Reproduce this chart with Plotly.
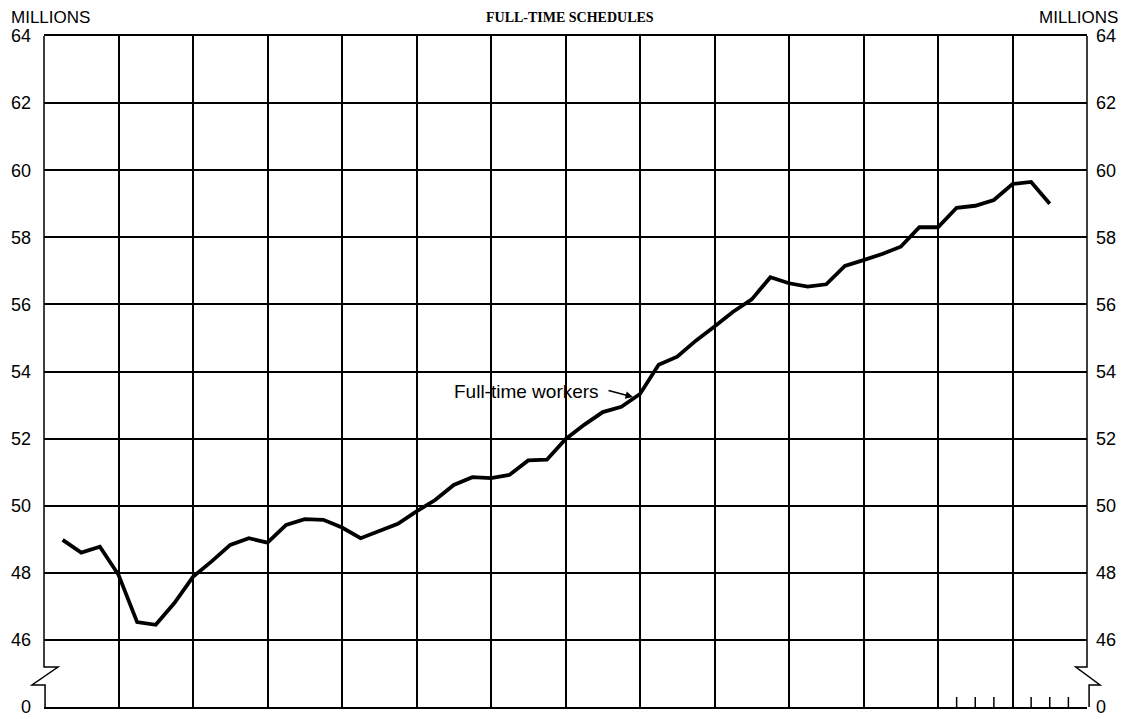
import plotly.graph_objects as go

# ---- data (quarterly, millions of full-time workers) ----
quarter_index = list(range(1, 55))  # quarters counted from start of first year
full_time_workers = [
    48.98, 48.60, 48.78, 47.94, 46.53, 46.45, 47.10, 47.88, 48.34, 48.83,
    49.03, 48.90, 49.43, 49.60, 49.58, 49.35, 49.03, 49.26, 49.46, 49.83,
    50.17, 50.62, 50.85, 50.82, 50.92, 51.35, 51.37, 51.98, 52.41, 52.79,
    52.95, 53.33, 54.20, 54.44, 54.92, 55.34, 55.78, 56.15, 56.81, 56.63,
    56.53, 56.60, 57.15, 57.32, 57.50, 57.72, 58.30, 58.30, 58.88, 58.94,
    59.11, 59.59, 59.65, 59.00,
]
n_years = 14
y_tick_vals = [44, 46, 48, 50, 52, 54, 56, 58, 60, 62, 64]
y_tick_text = ["0", "46", "48", "50", "52", "54", "56", "58", "60", "62", "64"]
quarter_ticks = [12.25, 12.5, 12.75, 13.25, 13.5, 13.75]

x_vals = [q / 4 for q in quarter_index]

SANS = "Liberation Sans, Arial, sans-serif"
SERIF = "Liberation Serif, Times New Roman, serif"

fig = go.Figure()
fig.add_trace(go.Scatter(
    x=x_vals, y=full_time_workers, mode="lines",
    line=dict(color="black", width=3.8),
    hoverinfo="skip", showlegend=False,
))
# invisible trace to carry the right-hand axis
fig.add_trace(go.Scatter(
    x=[x_vals[0]], y=[full_time_workers[0]], yaxis="y2", mode="markers",
    marker=dict(opacity=0), hoverinfo="skip", showlegend=False,
))

axis_font = dict(family=SANS, size=18, color="black")

# the page body adds an 8px offset, so the figure is 8px smaller
fig.update_layout(
    width=1120, height=711,
    margin=dict(l=36, r=41, t=28, b=12, autoexpand=False),
    paper_bgcolor="white", plot_bgcolor="white",
    xaxis=dict(
        range=[0, n_years], tickvals=list(range(1, n_years)),
        showticklabels=False, ticks="", automargin=False,
        showgrid=True, gridcolor="black", gridwidth=1.5,
        showline=True, mirror=True, linecolor="black", linewidth=1.5,
        zeroline=False, fixedrange=True,
    ),
    yaxis=dict(
        range=[44, 64], tickvals=y_tick_vals, ticktext=y_tick_text,
        showgrid=True, gridcolor="black", gridwidth=1.5, automargin=False,
        showline=False, zeroline=False, ticks="",
        tickfont=axis_font, ticklabelstandoff=12,
    ),
    yaxis2=dict(
        range=[44, 64], tickvals=y_tick_vals, ticktext=y_tick_text,
        overlaying="y", side="right", showgrid=False, automargin=False,
        showline=False, zeroline=False, ticks="",
        tickfont=axis_font, ticklabelstandoff=8,
    ),
)

shapes = []
# left border with scale break
shapes.append(dict(
    type="path", xref="paper", yref="paper",
    path="M 0,1 L 0,0.0596 L 0.0134,0.0596 L -0.0115,0.0328 L 0.001,0.0328 L 0.001,0",
    line=dict(color="black", width=1.5),
))
# right border with scale break
shapes.append(dict(
    type="path", xref="paper", yref="paper",
    path="M 1,1 L 1,0.0596 L 0.9892,0.0596 L 1.0125,0.0328 L 1.002,0.0328 L 1.002,0",
    line=dict(color="black", width=1.5),
))
# quarterly ticks at the bottom
for qt in quarter_ticks:
    shapes.append(dict(
        type="line", xref="x", yref="paper", x0=qt, x1=qt, y0=0, y1=0.015,
        line=dict(color="black", width=1.5),
    ))
fig.update_layout(shapes=shapes)

annotations = [
    dict(text="MILLIONS", xref="paper", yref="paper", x=-0.0336, y=1.027,
         xanchor="left", yanchor="middle", showarrow=False,
         font=dict(family=SANS, size=17, color="black")),
    dict(text="MILLIONS", xref="paper", yref="paper", x=1.0316, y=1.027,
         xanchor="right", yanchor="middle", showarrow=False,
         font=dict(family=SANS, size=17, color="black")),
    dict(text="<b>FULL-TIME SCHEDULES</b>", xref="paper", yref="paper",
         x=0.504, y=1.028, xanchor="center", yanchor="middle", showarrow=False,
         font=dict(family=SERIF, size=14, color="black")),
    dict(text="Full-time workers", xref="x", yref="y", x=7.48, y=53.40,
         xanchor="right", yanchor="middle", showarrow=False,
         font=dict(family=SANS, size=19, color="black")),
    dict(text="", xref="x", yref="y", x=7.906, y=53.24,
         showarrow=True, ax=-26, ay=-7, arrowhead=2, arrowsize=1,
         arrowwidth=1.5, arrowcolor="black"),
]
fig.update_layout(annotations=annotations)

fig.write_html("out.html")
